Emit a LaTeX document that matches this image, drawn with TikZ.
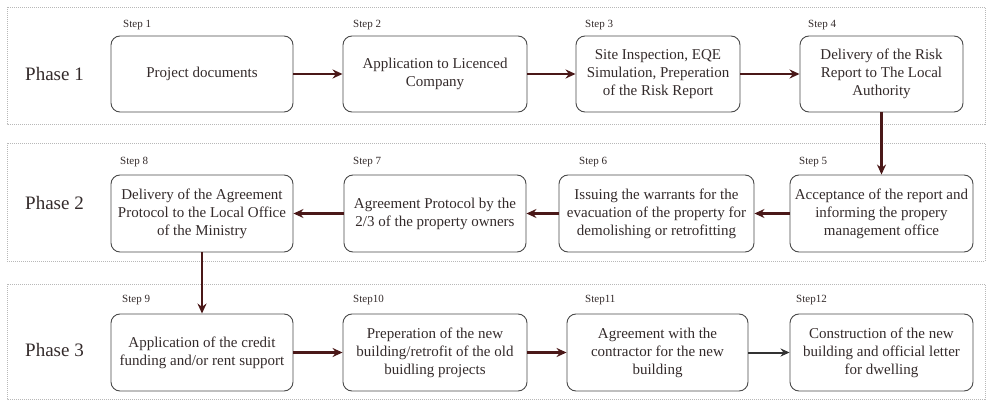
\documentclass[tikz,border=0pt]{standalone}
\usepackage{fontspec}
\setmainfont{Liberation Serif}
\usetikzlibrary{arrows.meta}
\definecolor{panelc}{HTML}{B8B8B8}
\definecolor{boxc}{HTML}{4A4A4A}
\definecolor{txtc}{HTML}{332A2A}
\definecolor{arrc}{HTML}{4A1818}
\begin{document}
\begin{tikzpicture}[x=1pt,y=-1pt,
  panel/.style={draw=panelc, dash pattern=on 1pt off 1pt, line width=0.9pt},
  stepbox/.style={draw=boxc, line width=0.9pt, rounded corners=9pt, align=center,
    inner sep=2pt, font=\fontsize{15}{18}\selectfont, text=txtc},
  steplabel/.style={anchor=base west, inner sep=0pt, font=\fontsize{11}{12}\selectfont, text=txtc},
  phaselabel/.style={anchor=west, inner sep=0pt, font=\fontsize{19}{22}\selectfont, text=txtc},
  flow/.style={draw=arrc, line width=2.4pt, -{Stealth[length=10pt,width=9pt]}},
  flowthin/.style={draw=black!80, line width=2pt, -{Stealth[length=9pt,width=8pt]}},
]
\useasboundingbox (0,0) rectangle (989,401);

% panels
\draw[panel] (7,7) rectangle (985,124);
\draw[panel] (7,143) rectangle (985,261);
\draw[panel] (7,284) rectangle (985,399);

% phase labels
\node[phaselabel] (ph1) at (25,74) {Phase 1};
\node[phaselabel] (ph2) at (25,203) {Phase 2};
\node[phaselabel] (ph3) at (25,350) {Phase 3};

% row 1
\node[stepbox, minimum width=182pt, minimum height=76pt] (b1) at (202,74) {Project documents};
\node[stepbox, minimum width=184pt, minimum height=76pt] (b2) at (435,74) {Application to Licenced\\Company};
\node[stepbox, minimum width=164pt, minimum height=76pt] (b3) at (658,74) {Site Inspection, EQE\\Simulation, Preperation\\of the Risk Report};
\node[stepbox, minimum width=163pt, minimum height=76pt] (b4) at (881.5,74) {Delivery of the Risk\\Report to The Local\\Authority};

% row 2
\node[stepbox, minimum width=182pt, minimum height=77pt] (b8) at (202,213.5) {Delivery of the Agreement\\Protocol to the Local Office\\of the Ministry};
\node[stepbox, minimum width=182pt, minimum height=77pt] (b7) at (435,213.5) {Agreement Protocol by the\\2/3 of the property owners};
\node[stepbox, minimum width=195pt, minimum height=77pt] (b6) at (656.5,213.5) {Issuing the warrants for the\\evacuation of the property for\\demolishing or retrofitting};
\node[stepbox, minimum width=183pt, minimum height=77pt] (b5) at (881.5,213.5) {Acceptance of the report and\\informing the propery\\management office};

% row 3
\node[stepbox, minimum width=182pt, minimum height=77pt] (b9) at (202,352.5) {Application of the credit\\funding and/or rent support};
\node[stepbox, minimum width=184pt, minimum height=77pt] (b10) at (435,352.5) {Preperation of the new\\building/retrofit of the old\\buidling projects};
\node[stepbox, minimum width=181pt, minimum height=77pt] (b11) at (657.5,352.5) {Agreement with the\\contractor for the new\\building};
\node[stepbox, minimum width=183pt, minimum height=77pt] (b12) at (881.5,352.5) {Construction of the new\\building and official letter\\for dwelling};

% step labels
\node[steplabel] (s1) at (123,28) {Step 1};
\node[steplabel] (s2) at (353,28) {Step 2};
\node[steplabel] (s3) at (585,28) {Step 3};
\node[steplabel] (s4) at (808,28) {Step 4};
\node[steplabel] (s8) at (120,165) {Step 8};
\node[steplabel] (s7) at (353,165) {Step 7};
\node[steplabel] (s6) at (579,165) {Step 6};
\node[steplabel] (s5) at (799,165) {Step 5};
\node[steplabel] (s9) at (122,302) {Step 9};
\node[steplabel] (s10) at (353,302) {Step10};
\node[steplabel] (s11) at (585,302) {Step11};
\node[steplabel] (s12) at (796,302) {Step12};

% connectors
\draw[flow] (b1) -- (b2);
\draw[flow] (b2) -- (b3);
\draw[flow] (b3) -- (b4);
\draw[flow] (b4) -- (b5);
\draw[flow] (b5) -- (b6);
\draw[flow] (b6) -- (b7);
\draw[flow] (b7) -- (b8);
\draw[flow] (b8) -- (b9);
\draw[flow] (b9) -- (b10);
\draw[flow] (b10) -- (b11);
\draw[flowthin] (b11) -- (b12);
\end{tikzpicture}
\end{document}
